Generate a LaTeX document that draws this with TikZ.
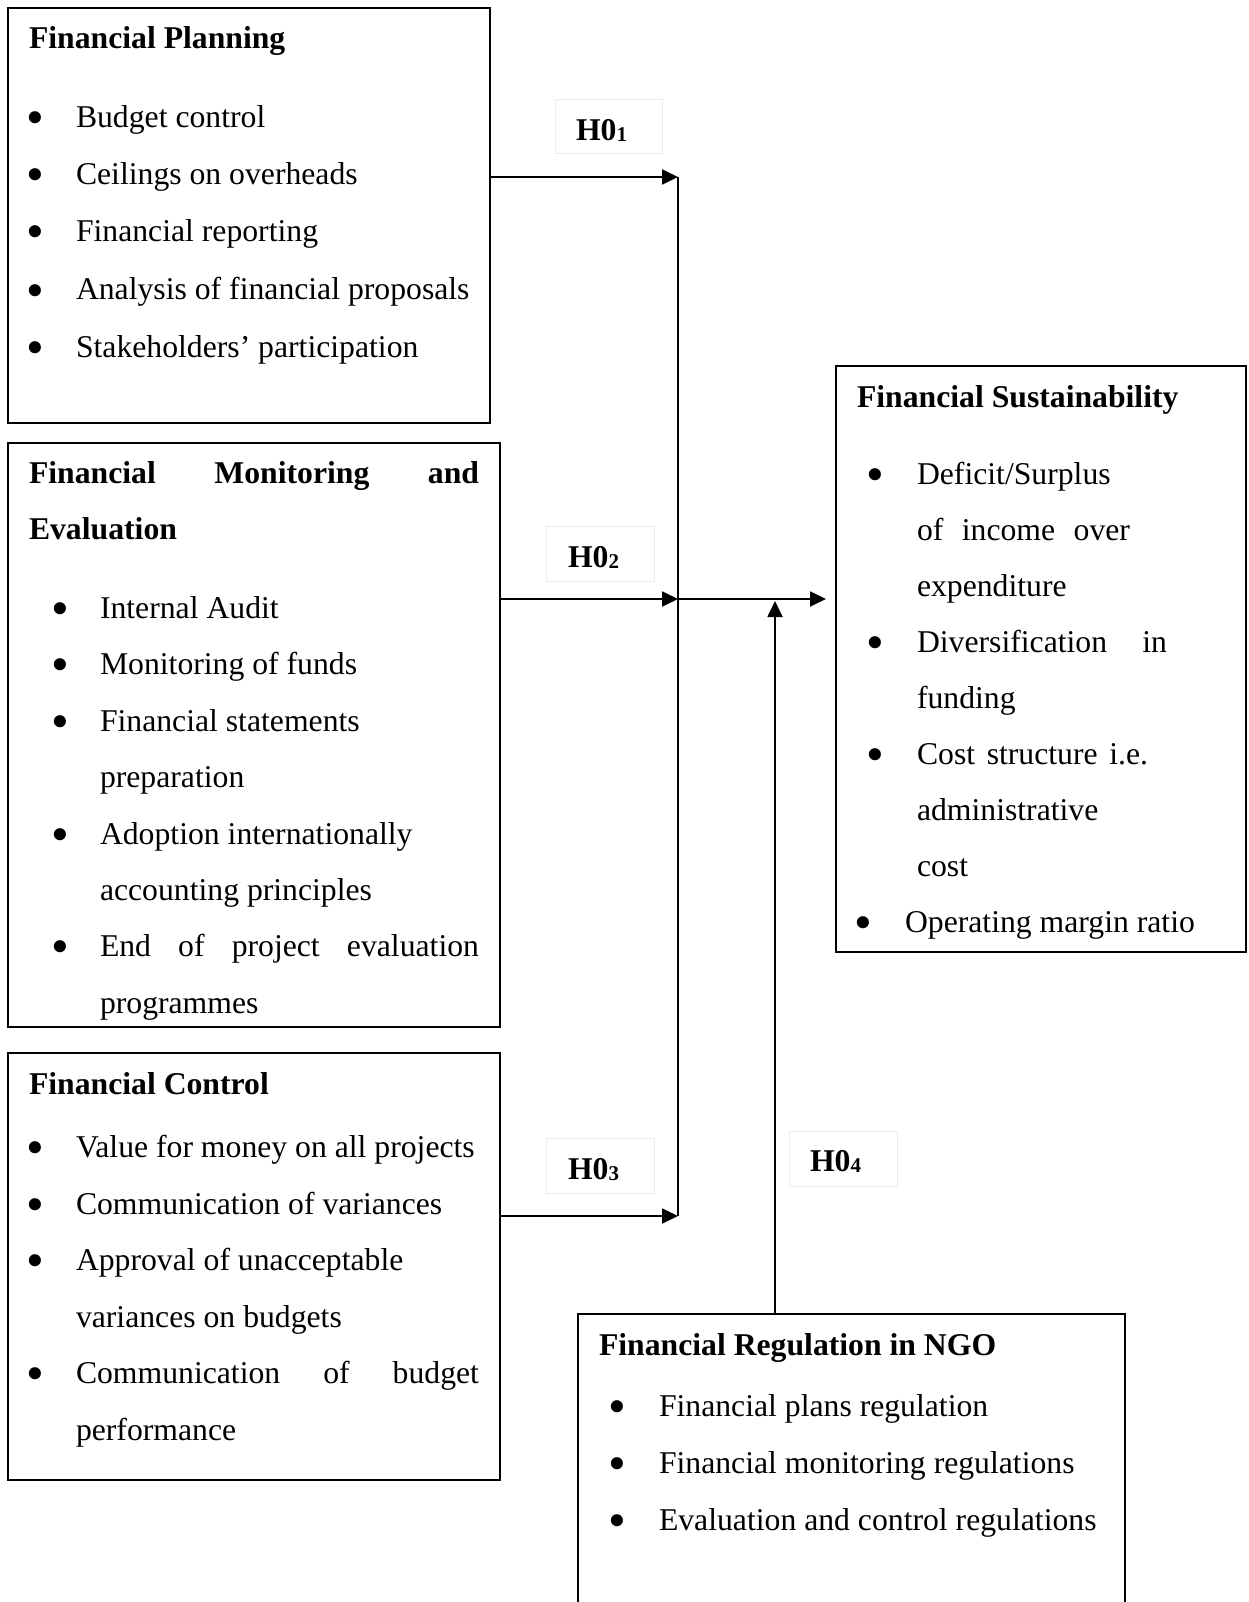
\documentclass[tikz,border=0pt]{standalone}
\usepackage{fontspec}
\usepackage{graphicx}
\setmainfont{Liberation Serif}
\usetikzlibrary{arrows.meta}
\newcommand\bodysize{\fontsize{31.7}{38}\selectfont}
\newcommand\subsize{\fontsize{21}{21}\selectfont}
\newcommand\Hlab[1]{\textbf{H0\raisebox{-1pt}{\subsize\bfseries #1}}}
\newcommand\bigbullet{\raisebox{-7pt}{\scalebox{1.6}{\textbullet}}}
\begin{document}
\begin{tikzpicture}[x=1pt,y=-1pt,
  every node/.style={font=\bodysize, inner sep=0pt, outer sep=0pt},
  box/.style={draw, line width=1.8pt, anchor=north west},
  lab/.style={draw=black!8, line width=1pt, anchor=north west},
  txt/.style={anchor=base west},
  ttl/.style={anchor=base west, font=\bodysize\bfseries},
  bul/.style={anchor=base},
  conn/.style={line width=1.8pt},
  arr/.style={conn, -{Triangle[length=16pt,width=15pt]}}]
\useasboundingbox (0,0) rectangle (1248,1602);
\clip (0,0) rectangle (1248,1602);

% boxes
\node[box, minimum width=482pt, minimum height=415pt] (fp) at (8,8) {};
\node[box, minimum width=492pt, minimum height=584pt] (fme) at (8,443) {};
\node[box, minimum width=410pt, minimum height=586pt] (fs) at (836,366) {};
\node[box, minimum width=492pt, minimum height=427pt] (fc) at (8,1053) {};
\node[box, minimum width=547pt, minimum height=400pt] (fr) at (578,1314) {};

% hypothesis labels
\node[lab, minimum width=107pt, minimum height=54pt] (h1box) at (555,100) {};
\node[txt] (h1) at (576,141) {\Hlab{1}};
\node[lab, minimum width=108pt, minimum height=55pt] (h2box) at (546,526) {};
\node[txt] (h2) at (568,567) {\Hlab{2}};
\node[lab, minimum width=108pt, minimum height=55pt] (h3box) at (546,1138) {};
\node[txt] (h3) at (568,1179) {\Hlab{3}};
\node[lab, minimum width=108pt, minimum height=55pt] (h4box) at (789,1131) {};
\node[txt] (h4) at (810,1171) {\Hlab{4}};

% Financial Planning
\node[ttl] (fpt) at (29,49) {Financial Planning};
\node[bul] (fpb1) at (35,128) {\bigbullet};
\node[txt] (fpi1) at (76,128) {Budget control};
\node[bul] (fpb2) at (35,185) {\bigbullet};
\node[txt] (fpi2) at (76,185) {Ceilings on overheads};
\node[bul] (fpb3) at (35,242) {\bigbullet};
\node[txt] (fpi3) at (76,242) {Financial reporting};
\node[bul] (fpb4) at (35,300) {\bigbullet};
\node[txt] (fpi4) at (76,300) {Analysis of financial proposals};
\node[bul] (fpb5) at (35,357) {\bigbullet};
\node[txt] (fpi5) at (76,357) {Stakeholders’ participation};

% Financial Monitoring and Evaluation
\node[ttl] (fmet1) at (29,483) {\makebox[450pt][s]{Financial Monitoring and}};
\node[ttl] (fmet2) at (29,539) {Evaluation};
\node[bul] (fmeb1) at (60,618) {\bigbullet};
\node[txt] (fmei1) at (100,618) {Internal Audit};
\node[bul] (fmeb2) at (60,674) {\bigbullet};
\node[txt] (fmei2) at (100,674) {Monitoring of funds};
\node[bul] (fmeb3) at (60,731) {\bigbullet};
\node[txt] (fmei3) at (100,731) {Financial statements};
\node[txt] (fmei3b) at (100,787) {preparation};
\node[bul] (fmeb4) at (60,844) {\bigbullet};
\node[txt] (fmei4) at (100,844) {Adoption internationally};
\node[txt] (fmei4b) at (100,900) {accounting principles};
\node[bul] (fmeb5) at (60,956) {\bigbullet};
\node[txt] (fmei5) at (100,956) {\makebox[379pt][s]{End of project evaluation}};
\node[txt] (fmei5b) at (100,1013) {programmes};

% Financial Sustainability
\node[ttl] (fst) at (857,407) {Financial Sustainability};
\node[bul] (fsb1) at (875,484) {\bigbullet};
\node[txt] (fsi1) at (917,484) {Deficit/Surplus};
\node[txt] (fsi1b) at (917,540) {\makebox[213pt][s]{of income over}};
\node[txt] (fsi1c) at (917,596) {expenditure};
\node[bul] (fsb2) at (875,652) {\bigbullet};
\node[txt] (fsi2) at (917,652) {\makebox[250pt][s]{Diversification in}};
\node[txt] (fsi2b) at (917,708) {funding};
\node[bul] (fsb3) at (875,764) {\bigbullet};
\node[txt] (fsi3) at (917,764) {\makebox[231pt][s]{Cost structure i.e.}};
\node[txt] (fsi3b) at (917,820) {administrative};
\node[txt] (fsi3c) at (917,876) {cost};
\node[bul] (fsb4) at (863,932) {\bigbullet};
\node[txt] (fsi4) at (905,932) {Operating margin ratio};

% Financial Control
\node[ttl] (fct) at (29,1094) {Financial Control};
\node[bul] (fcb1) at (35,1157) {\bigbullet};
\node[txt] (fci1) at (76,1157) {Value for money on all projects};
\node[bul] (fcb2) at (35,1214) {\bigbullet};
\node[txt] (fci2) at (76,1214) {Communication of variances};
\node[bul] (fcb3) at (35,1270) {\bigbullet};
\node[txt] (fci3) at (76,1270) {Approval of unacceptable};
\node[txt] (fci3b) at (76,1327) {variances on budgets};
\node[bul] (fcb4) at (35,1383) {\bigbullet};
\node[txt] (fci4) at (76,1383) {\makebox[403pt][s]{Communication of budget}};
\node[txt] (fci4b) at (76,1440) {performance};

% Financial Regulation
\node[ttl] (frt) at (599,1355) {Financial Regulation in NGO};
\node[bul] (frb1) at (617,1416) {\bigbullet};
\node[txt] (fri1) at (659,1416) {Financial plans regulation};
\node[bul] (frb2) at (617,1473) {\bigbullet};
\node[txt] (fri2) at (659,1473) {Financial monitoring regulations};
\node[bul] (frb3) at (617,1530) {\bigbullet};
\node[txt] (fri3) at (659,1530) {Evaluation and control regulations};

% connectors
\coordinate (j1) at (678,177);
\coordinate (j2) at (678,599);
\coordinate (j3) at (678,1216);
\coordinate (j4) at (775,601);
\draw[conn] (j1) -- (j3);
\draw[arr] (j1 -| fp.east) -- (j1);
\draw[arr] (j2 -| fme.east) -- (j2);
\draw[arr] (j3 -| fc.east) -- (j3);
\draw[arr, shorten >=10pt] (j2) -- (j2 -| fs.west);
\draw[arr] (j4 |- fr.north) -- (j4);
\end{tikzpicture}
\end{document}
